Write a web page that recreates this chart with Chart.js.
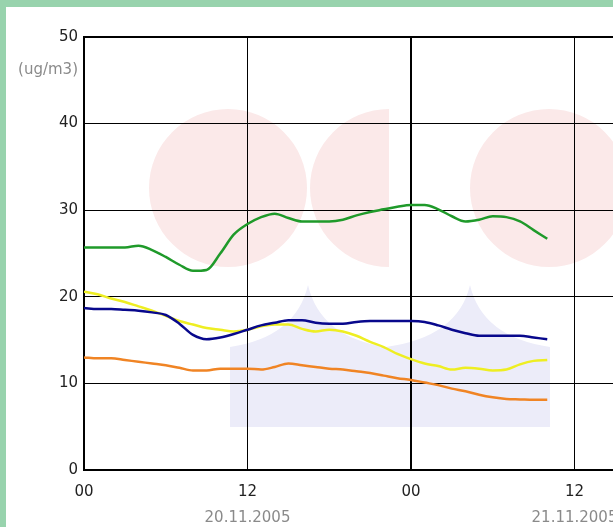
<!DOCTYPE html>
<html>
<head>
<meta charset="utf-8">
<script src="https://cdn.jsdelivr.net/npm/chart.js@4/dist/chart.umd.min.js"></script>
<style>
  html, body { margin: 0; padding: 0; overflow: hidden; background: #98d3ad; }
  #box { position: absolute; left: 6px; top: 7px; width: 760px; height: 520px; background: #fff; }
</style>
</head>
<body>
<div id="box"><canvas id="chart"></canvas></div>
<script>
// ─── Dados ───────────────────────────────────────────────────────────────────
const HOURS = [0,1,2,3,4,5,6,7,8,9,10,11,12,13,14,15,16,17,18,19,20,21,22,23,24,25,26,27,28,29,30,31,32,33,34];

const GREEN_VALUES = [25.7,25.7,25.7,25.7,25.9,25.4,24.6,23.7,23.0,23.1,25.0,27.2,28.4,29.2,29.6,29.1,28.7,28.7,
  28.7,28.9,29.4,29.8,30.1,30.4,30.6,30.6,30.1,29.3,28.7,28.9,29.3,29.2,28.7,27.7,26.7];
const BLUE_VALUES = [18.7,18.6,18.6,18.5,18.4,18.2,17.9,16.9,15.6,15.1,15.3,15.7,16.2,16.7,17.0,17.3,17.3,17.0,
  16.9,16.9,17.1,17.2,17.2,17.2,17.2,17.1,16.7,16.2,15.8,15.5,15.5,15.5,15.5,15.3,15.1];
const YELLOW_VALUES = [20.6,20.3,19.8,19.4,18.9,18.4,17.8,17.2,16.8,16.4,16.2,16.0,16.2,16.6,16.8,16.8,16.3,16.0,
  16.2,16.0,15.5,14.8,14.2,13.4,12.8,12.3,12.0,11.6,11.8,11.7,11.5,11.6,12.2,12.6,12.7];
const ORANGE_VALUES = [13.0,12.9,12.9,12.7,12.5,12.3,12.1,11.8,11.5,11.5,11.7,11.7,11.7,11.6,11.9,12.3,12.1,11.9,
  11.7,11.6,11.4,11.2,10.9,10.6,10.4,10.1,9.8,9.4,9.1,8.7,8.4,8.2,8.15,8.1,8.1];

const Y_TICKS = [0, 10, 20, 30, 40, 50];
const HOUR_TICKS = [0, 12, 24, 36, 48];
const HOUR_LABELS = ['00', '12', '00', '12', '00'];
const DATE_TICKS = [12, 36];
const DATE_LABELS = ['20.11.2005', '21.11.2005'];
const UNIT_LABEL = '(ug/m3)';

// ─── Helpers ─────────────────────────────────────────────────────────────────
function toPoints(values) {
  return values.map((v, i) => ({ x: HOURS[i], y: v }));
}

function serie(label, values, color) {
  return {
    label,
    data: toPoints(values),
    borderColor: color,
    borderWidth: 2.5,
    pointRadius: 0,
    cubicInterpolationMode: 'monotone',
    fill: false,
  };
}

// marca d'água do fundo (logo desbotado)
const watermark = {
  id: 'watermark',
  beforeDraw(chart) {
    const c = chart.ctx;
    c.save();
    c.fillStyle = '#fbe9e9';
    c.beginPath(); c.arc(222, 181, 79, 0, Math.PI * 2); c.fill();
    c.beginPath(); c.arc(383, 181, 79, Math.PI / 2, Math.PI * 1.5); c.closePath(); c.fill();
    c.beginPath(); c.arc(543, 181, 79, 0, Math.PI * 2); c.fill();

    c.fillStyle = '#ececf9';
    c.beginPath();
    c.moveTo(224, 340);
    c.quadraticCurveTo(290, 330, 302, 278);
    c.quadraticCurveTo(314, 330, 380, 340);
    c.quadraticCurveTo(452, 330, 464, 278);
    c.quadraticCurveTo(476, 330, 544, 340);
    c.lineTo(544, 420);
    c.lineTo(224, 420);
    c.closePath();
    c.fill();
    c.restore();
  },
  afterDraw(chart) {
    const c = chart.ctx;
    c.save();
    c.font = '15px "DejaVu Sans"';
    c.fillStyle = '#8a8a8a';
    c.textAlign = 'right';
    c.textBaseline = 'middle';
    c.fillText(UNIT_LABEL, 72, 63);
    c.restore();
  }
};

// ─── Gráfico ─────────────────────────────────────────────────────────────────
Chart.defaults.font.family = '"DejaVu Sans", sans-serif';
Chart.defaults.font.size = 15;

const ctx = document.getElementById('chart').getContext('2d');
new Chart(ctx, {
  type: 'line',
  data: {
    datasets: [
      serie('Zeleno', GREEN_VALUES, '#1f9a2a'),
      serie('Modro', BLUE_VALUES, '#08088c'),
      serie('Rumeno', YELLOW_VALUES, '#eeee22'),
      serie('Oranžno', ORANGE_VALUES, '#f08424'),
    ]
  },
  options: {
    responsive: true,
    maintainAspectRatio: false,
    animation: false,
    layout: { padding: { top: 30, right: 28, left: 0, bottom: 0 } },
    plugins: { legend: { display: false }, tooltip: { enabled: false } },
    scales: {
      x: {
        type: 'linear',
        min: 0,
        max: 48,
        afterBuildTicks: s => { s.ticks = HOUR_TICKS.map(v => ({ value: v })); },
        afterFit: s => { s.height = 30; },
        ticks: {
          autoSkip: false,
          maxRotation: 0,
          padding: 13,
          color: '#222',
          callback: (v, i) => HOUR_LABELS[i],
        },
        border: { display: true, color: '#000', width: 2 },
        grid: {
          color: '#000',
          drawTicks: false,
          lineWidth: c => (c.tick && c.tick.value % 24 === 0 ? 2 : 1),
        }
      },
      x2: {
        type: 'linear',
        position: 'bottom',
        min: 0,
        max: 48,
        afterBuildTicks: s => { s.ticks = DATE_TICKS.map(v => ({ value: v })); },
        afterFit: s => { s.height = 27; },
        ticks: {
          autoSkip: false,
          maxRotation: 0,
          padding: 9,
          color: '#8a8a8a',
          callback: (v, i) => DATE_LABELS[i],
        },
        border: { display: false },
        grid: { display: false, drawTicks: false }
      },
      y: {
        min: 0,
        max: 50,
        afterBuildTicks: s => { s.ticks = Y_TICKS.map(v => ({ value: v })); },
        afterFit: s => { s.width = 78; },
        ticks: { padding: 6, color: '#222' },
        border: { display: true, color: '#000', width: 2 },
        grid: {
          color: '#000',
          drawTicks: false,
          lineWidth: c => (c.tick && c.tick.value === 50 ? 2 : 1),
        }
      }
    }
  },
  plugins: [watermark]
});
</script>
</body>
</html>
